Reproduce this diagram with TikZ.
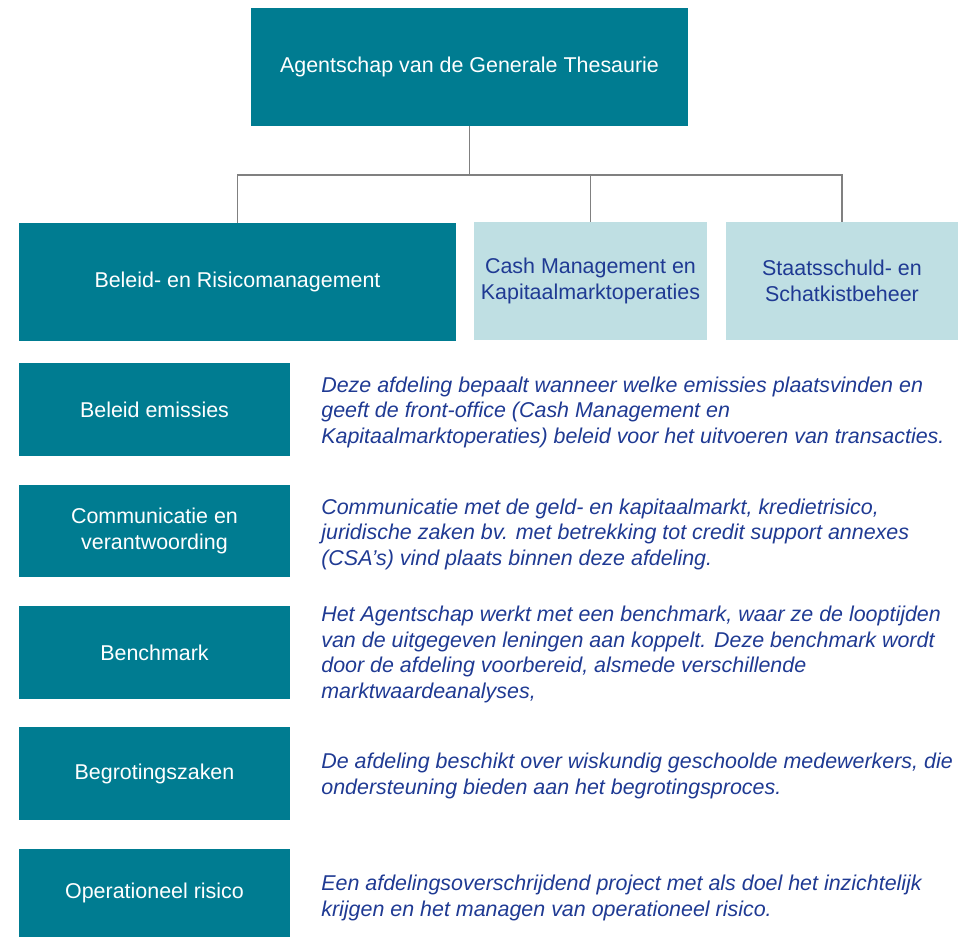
\documentclass[tikz,border=0pt]{standalone}
\usepackage{fontspec}
\setmainfont{Liberation Sans}
\usepackage{xcolor}
\usepackage{tikz}
\usetikzlibrary{shapes,arrows,positioning}
\definecolor{agtTeal}{RGB}{0,124,145}
\definecolor{agtLight}{RGB}{191,223,227}
\definecolor{agtBlue}{RGB}{31,58,147}
\definecolor{agtGray}{RGB}{128,128,128}
\tikzstyle{line} = [draw, agtGray, line width=1.1pt]
\tikzstyle{headBlock} = [rectangle, fill=agtTeal, text=white, align=center,
    inner sep=0pt, minimum width=8.74cm, minimum height=2.36cm]
\tikzstyle{teamBlock} = [rectangle, fill=agtLight, text=agtBlue, align=center,
    inner sep=0pt, minimum height=2.36cm]
\tikzstyle{unitBlock} = [rectangle, fill=agtTeal, text=white, align=center,
    inner sep=0pt, minimum width=5.42cm, minimum height=1.86cm]
\tikzstyle{descText} = [anchor=west, align=left, inner sep=0pt, text=agtBlue,
    font=\fontsize{12.2}{14.5}\selectfont\itshape]

\begin{document}
\begin{tikzpicture}[x=0.02cm, y=-0.02cm, font=\fontsize{12.2}{14.8}\selectfont]
      \useasboundingbox (0,0) rectangle (968,937);
      % Place nodes
      \node [headBlock] (agt) at (469.5,67) {Agentschap van de Generale Thesaurie};

      \node [headBlock] (beleid) at (237.5,282) {Beleid- en Risicomanagement};
      \node [teamBlock, minimum width=4.66cm] (cash) at (590.5,281) {Cash Management en\\Kapitaalmarktoperaties};
      \node [teamBlock, minimum width=4.64cm] (staat) at (842,281) {Staatsschuld- en\\Schatkistbeheer};

      \node [unitBlock] (emissies) at (154.5,409.5) {Beleid emissies};
      \node [unitBlock] (communicatie) at (154.5,531) {Communicatie en\\verantwoording};
      \node [unitBlock] (benchmark) at (154.5,652.5) {Benchmark};
      \node [unitBlock] (begroting) at (154.5,773.5) {Begrotingszaken};
      \node [unitBlock, minimum height=1.76cm] (risico) at (154.5,893) {Operationeel risico};

      \node [descText] (emissiesTxt) at (321,412) {Deze afdeling bepaalt wanneer welke emissies plaatsvinden en\\geeft de front-office (Cash Management en\\Kapitaalmarktoperaties) beleid voor het uitvoeren van transacties.};
      \node [descText] (communicatieTxt) at (321,534) {Communicatie met de geld- en kapitaalmarkt, kredietrisico,\\juridische zaken bv. met betrekking tot credit support annexes\\(CSA’s) vind plaats binnen deze afdeling.};
      \node [descText] (benchmarkTxt) at (321,654.5) {Het Agentschap werkt met een benchmark, waar ze de looptijden\\van de uitgegeven leningen aan koppelt. Deze benchmark wordt\\door de afdeling voorbereid, alsmede verschillende\\marktwaardeanalyses,};
      \node [descText] (begrotingTxt) at (321,776) {De afdeling beschikt over wiskundig geschoolde medewerkers, die\\ondersteuning bieden aan het begrotingsproces.};
      \node [descText] (risicoTxt) at (321,898) {Een afdelingsoverschrijdend project met als doel het inzichtelijk\\krijgen en het managen van operationeel risico.};

      \coordinate (bus) at (469.5,175);

      \path [line] (agt.south) -- (bus);
      \path [line] (bus) -| (beleid.north);
      \path [line] (bus) -| (cash.north);
      \path [line] (bus) -| (staat.north);

  \end{tikzpicture}
\end{document}
